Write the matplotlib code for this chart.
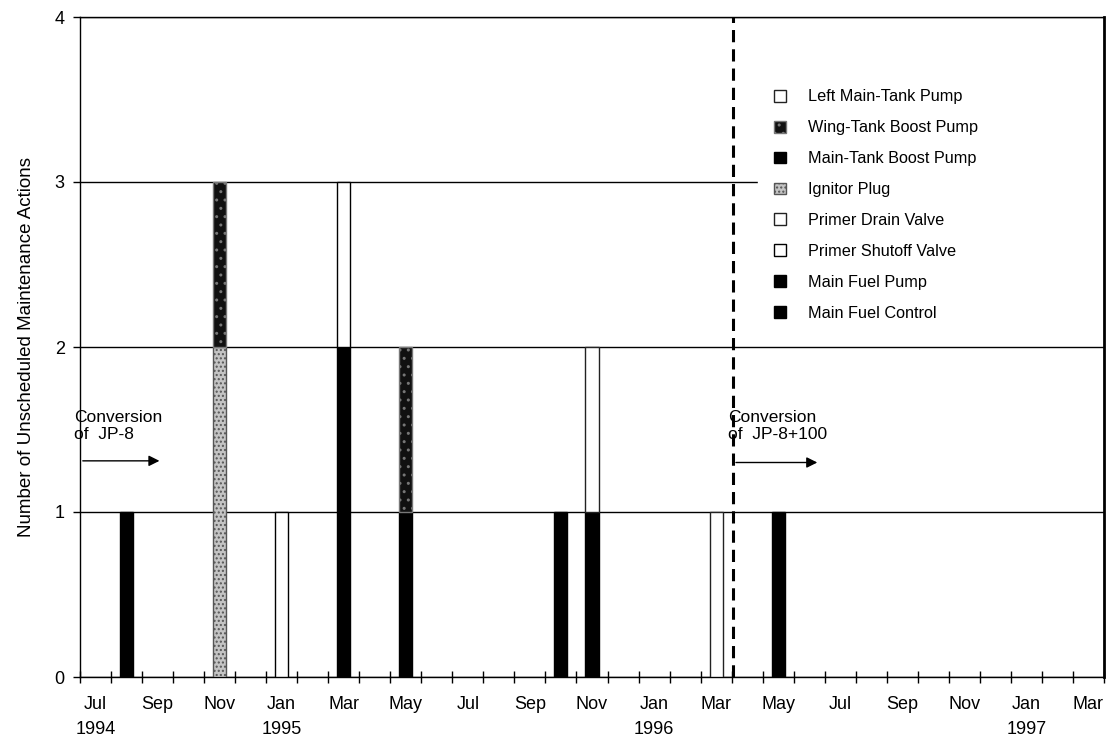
import matplotlib

matplotlib.use("Agg")

import matplotlib.pyplot as plt
import numpy as np
from matplotlib.patches import Patch

plt.rcParams["font.family"] = ["Liberation Sans", "DejaVu Sans"]

# x axis: one slot per month, Jul 1994 .. Mar 1997
axis_start = (1994, 7)
n_months = 33
month_labels = ["Jul\n1994", "Sep", "Nov", "Jan\n1995", "Mar", "May", "Jul", "Sep", "Nov",
                "Jan\n1996", "Mar", "May", "Jul", "Sep", "Nov", "Jan\n1997", "Mar"]

# months that had unscheduled actions
bar_months = [(1994, 8), (1994, 11), (1995, 1), (1995, 3), (1995, 5),
              (1995, 10), (1995, 11), (1996, 3), (1996, 5)]

# counts per component, stacked bottom -> top
main_fuel_control = [1, 0, 0, 1, 0, 1, 0, 0, 1]
main_fuel_pump = [0, 0, 0, 1, 1, 0, 1, 0, 0]
primer_shutoff_valve = [0, 0, 1, 1, 0, 0, 0, 0, 0]
primer_drain_valve = [0, 0, 0, 0, 0, 0, 1, 1, 0]
ignitor_plug = [0, 2, 0, 0, 0, 0, 0, 0, 0]
main_tank_boost_pump = [0, 0, 0, 0, 0, 0, 0, 0, 0]
wing_tank_boost_pump = [0, 1, 0, 0, 1, 0, 0, 0, 0]
left_main_tank_pump = [0, 0, 0, 0, 0, 0, 0, 0, 0]

series = [
    ("Main Fuel Control", main_fuel_control, dict(facecolor="black", edgecolor="black")),
    ("Main Fuel Pump", main_fuel_pump, dict(facecolor="black", edgecolor="black")),
    ("Primer Shutoff Valve", primer_shutoff_valve, dict(facecolor="white", edgecolor="black")),
    ("Primer Drain Valve", primer_drain_valve, dict(facecolor="white", edgecolor="#222222")),
    ("Ignitor Plug", ignitor_plug, dict(facecolor="#c4c4c4", edgecolor="#555555", hatch="....")),
    ("Main-Tank Boost Pump", main_tank_boost_pump, dict(facecolor="black", edgecolor="black")),
    ("Wing-Tank Boost Pump", wing_tank_boost_pump, dict(facecolor="#111111", edgecolor="#777777", hatch="..")),
    ("Left Main-Tank Pump", left_main_tank_pump, dict(facecolor="white", edgecolor="#222222")),
]

conversion_1 = 0.0    # JP-8 conversion (axis start)
conversion_2 = 21.05  # JP-8+100 conversion, start of Apr 1996

x = np.array([(y - axis_start[0]) * 12 + m - axis_start[1] + 0.5 for y, m in bar_months])

fig = plt.figure(figsize=(11.1, 7.41), dpi=100)
ax = fig.add_axes([80 / 1110, 1 - 677 / 741, 1024 / 1110, 660 / 741])

bottom = np.zeros(len(x))
handles = []
for name, vals, style in series:
    vals = np.array(vals, dtype=float)
    m = vals > 0
    if m.any():
        ax.bar(x[m], vals[m], width=0.42, bottom=bottom[m], linewidth=1.0, zorder=3, **style)
    bottom += vals
    handles.append(Patch(linewidth=1.0, label=name, **style))

ax.set_xlim(0, n_months)
ax.set_ylim(0, 4)
ax.set_yticks(range(5))
ax.yaxis.grid(True, color="black", linewidth=1.0)
ax.set_axisbelow(True)

ax.set_xticks(np.arange(0, n_months + 1))
ax.set_xticklabels([])
ax.set_xticks(np.arange(0, n_months, 2) + 0.5, minor=True)
ax.set_xticklabels(month_labels, minor=True, fontsize=13, linespacing=1.55)
ax.tick_params(axis="x", which="major", direction="inout", length=8, width=1)
ax.tick_params(axis="x", which="minor", length=0, pad=14)
ax.tick_params(axis="y", direction="out", length=5, width=1, labelsize=13, pad=6)

for s in ax.spines.values():
    s.set_linewidth(1.0)
ax.spines["right"].set_linewidth(2.0)
ax.spines["right"].set_zorder(6)

ax.set_ylabel("Number of Unscheduled Maintenance Actions", fontsize=13.5, labelpad=14)

ax.axvline(conversion_2, color="black", linewidth=2.2, dashes=(4, 2.3), zorder=4)

arrow = dict(arrowstyle="-|>", color="black", lw=1.0, mutation_scale=16)
ax.annotate("", xy=(2.65, 1.31), xytext=(conversion_1, 1.31), arrowprops=arrow)
ax.annotate("", xy=(23.85, 1.30), xytext=(conversion_2, 1.30), arrowprops=arrow)
ax.text(-0.2, 1.52, "Conversion\nof  JP-8", fontsize=12.5, va="center", ha="left", linespacing=1.15)
ax.text(20.88, 1.52, "Conversion\nof  JP-8+100", fontsize=12.5, va="center", ha="left", linespacing=1.15)

leg = ax.legend(handles[::-1], [h.get_label() for h in handles[::-1]],
                loc="upper left", bbox_to_anchor=(0.662, 0.45, 0.338, 0.465), mode="expand",
                fontsize=11.7, handlelength=0.75, handleheight=0.75, handletextpad=1.35,
                labelspacing=0.98, borderpad=1.0, borderaxespad=0,
                frameon=True, fancybox=False, framealpha=1)
leg.get_frame().set_edgecolor("white")
leg.get_frame().set_facecolor("white")
leg.set_zorder(5)

fig.savefig("out.png", dpi=100)
plt.close(fig)
